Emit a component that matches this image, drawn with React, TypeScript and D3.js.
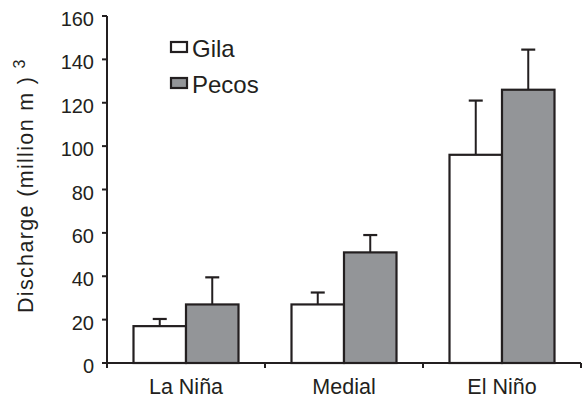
import React from "react";
import * as d3 from "d3";

// valores
const categories = ["La Niña", "Medial", "El Niño"];
const seriesNames = ["Gila", "Pecos"];
const gilaValues = [17, 27, 96];
const pecosValues = [27, 51, 126];
const gilaErrors = [3.3, 5.5, 25];
const pecosErrors = [12.5, 8, 18.5];
const yTicks = [0, 20, 40, 60, 80, 100, 120, 140, 160];

const INK = "#231f20";
const FILLS = ["#ffffff", "#939598"];
const FONT = "Liberation Sans, Arial, Helvetica, sans-serif";

const App = () => {
  const width = 584;
  const height = 398;
  const margin = { top: 16, right: 3, bottom: 35, left: 107 };
  const innerW = width - margin.left - margin.right;
  const innerH = height - margin.top - margin.bottom;

  const x = d3.scaleBand().domain(categories).range([0, innerW]).paddingInner(0).paddingOuter(0);
  const xSub = d3.scaleBand().domain(seriesNames).range([0, 105]).padding(0);
  const groupOffset = (x.bandwidth() - 105) / 2;
  const y = d3.scaleLinear().domain([0, 160]).range([innerH, 0]);

  const series = [
    { name: "Gila", values: gilaValues, errors: gilaErrors, fill: FILLS[0] },
    { name: "Pecos", values: pecosValues, errors: pecosErrors, fill: FILLS[1] },
  ];

  const boundaries = [0, ...categories.map((c) => (x(c) as number) + x.bandwidth())];

  return (
    <svg width={width} height={height} style={{ position: "absolute", left: 0, top: 0, background: "#fff" }}>
      <g transform={`translate(${margin.left},${margin.top})`} fontFamily={FONT} fill={INK}>
        {/* barras */}
        {series.map((s) =>
          categories.map((c, i) => {
            const bx = (x(c) as number) + groupOffset + (xSub(s.name) as number);
            const bw = xSub.bandwidth();
            const cx = bx + bw / 2;
            const top = y(s.values[i]);
            const errTop = y(s.values[i] + s.errors[i]);
            return (
              <g key={s.name + c}>
                <line x1={cx} x2={cx} y1={top} y2={errTop} stroke={INK} strokeWidth={2} />
                <line x1={cx - 7} x2={cx + 7} y1={errTop} y2={errTop} stroke={INK} strokeWidth={2.2} />
                <rect x={bx} y={top} width={bw} height={innerH - top} fill={s.fill} stroke={INK} strokeWidth={2.2} />
              </g>
            );
          })
        )}

        {/* eje Y */}
        <line x1={0} x2={0} y1={y(160)} y2={innerH} stroke={INK} strokeWidth={2} />
        {yTicks.map((t) => (
          <g key={t} transform={`translate(0,${y(t)})`}>
            <line x1={-5} x2={0} stroke={INK} strokeWidth={2} />
            <text x={-13} dy="0.5em" textAnchor="end" fontSize={20}>
              {t}
            </text>
          </g>
        ))}

        {/* eje X */}
        <line x1={-5} x2={innerW} y1={innerH} y2={innerH} stroke={INK} strokeWidth={2} />
        {boundaries.map((b, i) => (
          <line key={i} x1={b} x2={b} y1={innerH} y2={innerH + 5} stroke={INK} strokeWidth={2} />
        ))}
        {categories.map((c) => (
          <text key={c} x={(x(c) as number) + x.bandwidth() / 2} y={innerH + 31} textAnchor="middle" fontSize={21.5}>
            {c}
          </text>
        ))}

        {/* título del eje Y */}
        <text
          transform={`translate(-74,${313 - margin.top}) rotate(-90)`}
          fontSize={21.5}
          textAnchor="start"
          textLength={236}
          lengthAdjust="spacing"
        >
          Discharge (million m )
        </text>
        <text transform={`translate(-82,${64 - margin.top}) rotate(-90)`} fontSize={16} textAnchor="middle">
          3
        </text>

        {/* leyenda */}
        {series.map((s, i) => (
          <g key={s.name} transform={`translate(64,${26 + i * 36})`}>
            <rect x={0} y={0} width={16} height={10} fill={s.fill} stroke={INK} strokeWidth={2.2} />
            <text x={21} y={14.5} fontSize={24}>
              {s.name}
            </text>
          </g>
        ))}
      </g>
    </svg>
  );
};

export default App;
